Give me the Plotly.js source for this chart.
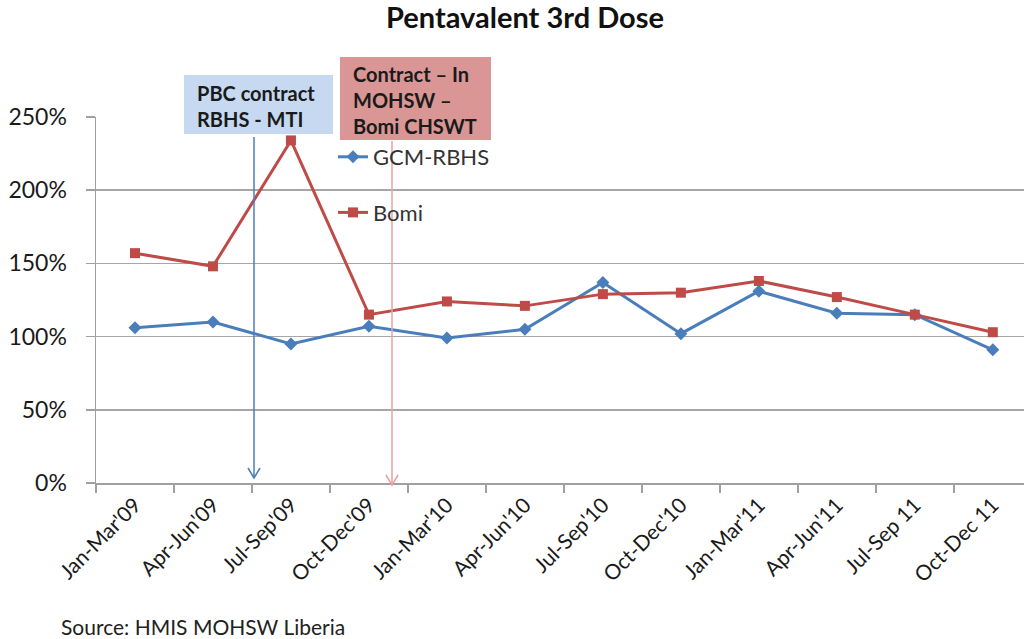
<!DOCTYPE html>
<html>
<head>
<meta charset="utf-8">
<script src="https://cdn.plot.ly/plotly-3.0.1.min.js"></script>
<style>html,body{margin:0;padding:0;background:#fff;}#chart{width:1024px;height:639px;}</style>
</head>
<body>
<div id="chart"></div>
<script>
// ---- data ----
const categories = ["Jan-Mar'09","Apr-Jun'09","Jul-Sep'09","Oct-Dec'09","Jan-Mar'10","Apr-Jun'10","Jul-Sep'10","Oct-Dec'10","Jan-Mar'11","Apr-Jun'11","Jul-Sep 11","Oct-Dec 11"];
const gcmRbhs = [106, 110, 95, 107, 99, 105, 137, 102, 131, 116, 115, 91];
const bomi    = [157, 148, 234, 115, 124, 121, 129, 130, 138, 127, 115, 103];
const yTickVals = [0, 50, 100, 150, 200, 250];
const yTickText = ["0%","50%","100%","150%","200%","250%"];
const seriesNames = ["GCM-RBHS", "Bomi"];
const noteBlue = "PBC contract<br>RBHS - MTI";
const noteRed = "Contract – In<br>MOHSW –<br>Bomi CHSWT";
const titleText = "<b>Pentavalent 3rd Dose</b>";
const sourceText = "Source: HMIS MOHSW Liberia";

// ---- layout geometry ----
const W = 1024, H = 639;
const M = {l: 96, r: 0, t: 117, b: 156};
const PW = W - M.l - M.r, PH = H - M.t - M.b;
const px = v => (v - M.l) / PW;      // pixel x -> paper x
const py = v => (H - M.b - v) / PH;  // pixel y -> paper y

const FONT = "Lato, 'Open Sans', sans-serif";
const BLUE = "#4a7ebb", RED = "#be4b48";

const traces = [
  {x: categories, y: gcmRbhs, name: seriesNames[0], type: "scatter", mode: "lines+markers",
   legendgroup: "a", line: {color: BLUE, width: 3}, marker: {symbol: "diamond", size: 10, color: BLUE}},
  {x: categories, y: bomi, name: seriesNames[1], type: "scatter", mode: "lines+markers",
   legendgroup: "b", line: {color: RED, width: 3}, marker: {symbol: "square", size: 10, color: RED}}
];

function arrow(xp, yTop, yTip, color) {
  return [
    {type: "line", xref: "paper", yref: "paper", x0: px(xp), x1: px(xp), y0: py(yTop), y1: py(yTip),
     line: {color: color, width: 1.5}},
    {type: "path", xref: "paper", yref: "paper",
     path: `M ${px(xp-6)} ${py(yTip-10)} L ${px(xp)} ${py(yTip)} L ${px(xp+6)} ${py(yTip-10)}`,
     line: {color: color, width: 1.5}}
  ];
}

const layout = {
  width: W, height: H,
  margin: {l: M.l, r: M.r, t: M.t, b: M.b, pad: 0},
  paper_bgcolor: "#fff", plot_bgcolor: "#fff",
  font: {family: FONT, color: "#1a1a1a"},
  title: {text: titleText, x: 525 / W, xanchor: "center", y: 1 - 18 / H, yanchor: "middle",
          font: {family: FONT, size: 29, color: "#111"}},
  showlegend: true,
  legend: {x: px(333), y: py(136), xanchor: "left", yanchor: "top", bgcolor: "rgba(0,0,0,0)",
           traceorder: "grouped", tracegroupgap: 24, font: {family: FONT, size: 22, color: "#333"},
           itemwidth: 30},
  xaxis: {type: "category", categoryorder: "array", categoryarray: categories,
          range: [-0.5, 11.4], showgrid: false, showline: true, linecolor: "#a0a0a0", linewidth: 1.5,
          ticks: "outside", tickson: "boundaries", ticklen: 8, tickcolor: "#a0a0a0", tickwidth: 1.5,
          tickangle: -45, tickfont: {family: FONT, size: 21, color: "#1a1a1a"}, zeroline: false, fixedrange: true},
  yaxis: {range: [0, 250], tickvals: yTickVals, ticktext: yTickText, showgrid: true,
          gridcolor: "#a6a6a6", gridwidth: 1.5, showline: true, linecolor: "#a0a0a0", linewidth: 1.5,
          ticks: "outside", ticklen: 9, tickcolor: "#a0a0a0", tickwidth: 1.5, ticklabelstandoff: 14,
          tickfont: {family: FONT, size: 23, color: "#1a1a1a"}, zeroline: false, fixedrange: true},
  shapes: [
    {type: "rect", xref: "paper", yref: "paper", x0: px(184), x1: px(333), y0: py(134), y1: py(75),
     fillcolor: "#c6d9f1", line: {width: 0}, layer: "above"},
    {type: "rect", xref: "paper", yref: "paper", x0: px(340), x1: px(491), y0: py(140), y1: py(57),
     fillcolor: "#d99694", line: {width: 0}, layer: "above"},
    ...arrow(254, 137, 478, BLUE),
    ...arrow(392, 141, 485, "#e6a3a3")
  ],
  annotations: [
    {text: "<b>" + noteBlue + "</b>", xref: "paper", yref: "paper", x: px(195), y: py(79),
     xanchor: "left", yanchor: "top", align: "left", showarrow: false,
     font: {family: FONT, size: 20, color: "#1a1a1a"}},
    {text: "<b>" + noteRed + "</b>", xref: "paper", yref: "paper", x: px(351), y: py(60),
     xanchor: "left", yanchor: "top", align: "left", showarrow: false,
     font: {family: FONT, size: 20, color: "#1a1a1a"}},
    {text: sourceText, xref: "paper", yref: "paper", x: px(59), y: py(626),
     xanchor: "left", yanchor: "middle", showarrow: false,
     font: {family: FONT, size: 21, color: "#222"}}
  ]
};

Plotly.newPlot("chart", traces, layout, {displayModeBar: false, staticPlot: true});
</script>
</body>
</html>
